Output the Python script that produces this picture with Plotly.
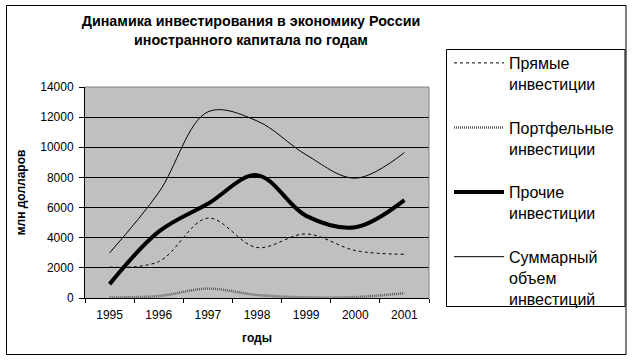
import plotly.graph_objects as go

years = ["1995", "1996", "1997", "1998", "1999", "2000", "2001"]
direct = [2050, 2420, 5300, 3350, 4250, 3150, 2900]
portfolio = [40, 130, 620, 200, 40, 60, 320]
other = [920, 4400, 6250, 8150, 5450, 4700, 6500]
total = [2990, 7000, 12350, 11750, 9500, 7950, 9650]

names = ["Прямые<br>инвестиции", "Портфельные<br>инвестиции",
         "Прочие<br>инвестиции", "Суммарный<br>объем<br>инвестиций"]
y_ticks = [0, 2000, 4000, 6000, 8000, 10000, 12000, 14000]

W, H = 633, 360
L, R, T, B = 85, 429, 87, 298


def px(x):
    return (x - L) / (R - L)


def py(y):
    return (B - y) / (B - T)


fig = go.Figure()
styles = [
    (direct, dict(color="black", width=1, dash="3px,3px")),
    (portfolio, dict(color="#5a5a5a", width=2.5, dash="1px,1px")),
    (other, dict(color="black", width=4)),
    (total, dict(color="black", width=1)),
]
for i, ((vals, ln), nm) in enumerate(zip(styles, names)):
    fig.add_trace(go.Scatter(x=years, y=vals, name=nm, mode="lines",
                             line=dict(shape="spline", **ln),
                             legendgroup=str(i)))

fig.update_layout(
    width=W, height=H,
    margin=dict(l=L, r=W - R, t=T, b=H - B, autoexpand=False),
    paper_bgcolor="white", plot_bgcolor="#c0c0c0",
    font=dict(family="Liberation Sans, Arial, sans-serif", color="black", size=12),
    title=dict(text="Динамика инвестирования в экономику России<br>иностранного капитала по годам",
               font=dict(size=14.3, weight="bold"), x=251 / W, xanchor="center",
               xref="container", yref="container", y=1 - 26 / H, yanchor="top"),
    showlegend=True,
    legend=dict(x=px(449), xanchor="left", y=py(46), yanchor="top",
                bgcolor="rgba(0,0,0,0)", borderwidth=0, maxheight=340,
                font=dict(size=16), valign="top", tracegroupgap=20,
                itemwidth=50, traceorder="grouped"),
    xaxis=dict(type="category", range=[-0.5, 6.5], tickson="boundaries",
               ticks="outside", ticklen=4, tickcolor="black",
               showline=True, linecolor="black", linewidth=1,
               showgrid=False, zeroline=False, fixedrange=True,
               ticklabelstandoff=6,
               title=dict(text="годы", font=dict(size=12, weight="bold"), standoff=12),
               tickfont=dict(size=12)),
    yaxis=dict(range=[0, 14000], tickvals=y_ticks, tickformat="d",
               ticks="outside", ticklen=5, ticklabelstandoff=3,
               tickcolor="black", showline=True, linecolor="black", linewidth=1,
               showgrid=True, gridcolor="black", gridwidth=1, zeroline=False,
               fixedrange=True,
               title=dict(text="млн долларов", font=dict(size=12, weight="bold"), standoff=12),
               tickfont=dict(size=12)),
)

# plot area top/right gray border
fig.add_shape(type="line", xref="paper", yref="paper", x0=0, x1=1, y0=1, y1=1,
              line=dict(color="#808080", width=1))
fig.add_shape(type="line", xref="paper", yref="paper", x0=1, x1=1, y0=0, y1=1,
              line=dict(color="#808080", width=1))
# outer chart border
fig.add_shape(type="rect", xref="paper", yref="paper",
              x0=px(6.5), x1=px(626), y0=py(354.5), y1=py(5.5),
              line=dict(color="black", width=1), layer="above")
# legend box
fig.add_shape(type="rect", xref="paper", yref="paper",
              x0=px(446.5), x1=px(625), y0=py(306.5), y1=py(49.5),
              line=dict(color="black", width=1), layer="above")

fig.write_html("out.html", config={"displayModeBar": False},
               post_script="document.body.style.margin='0';")
